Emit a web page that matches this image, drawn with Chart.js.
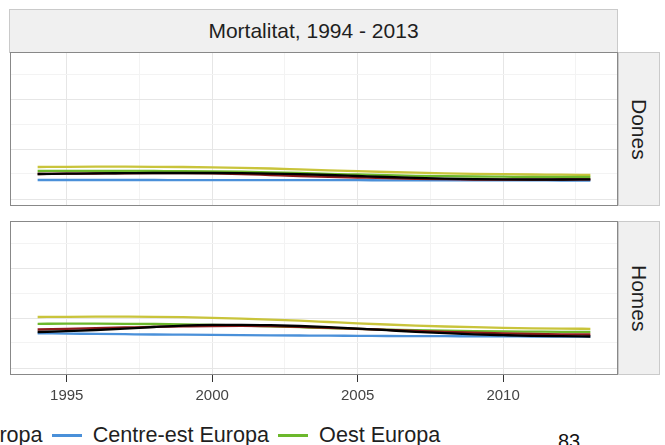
<!DOCTYPE html>
<html>
<head>
<meta charset="utf-8">
<script src="https://cdn.jsdelivr.net/npm/chart.js@4.4.1/dist/chart.umd.min.js"></script>
<style>
html,body{margin:0;padding:0;background:#fff;}
body{width:665px;height:445px;position:relative;overflow:hidden;font-family:"Liberation Sans",Arial,sans-serif;}
.strip{position:absolute;background:#f0f0f0;border:1px solid #cacaca;box-sizing:border-box;color:#1f1f1f;font-size:21px;display:flex;align-items:center;justify-content:center;}
.vtext{writing-mode:vertical-rl;}
.frame{position:absolute;left:10px;width:608px;height:154px;border:1px solid #888;box-sizing:border-box;pointer-events:none;}
canvas{position:absolute;left:10px;}
#legend{position:absolute;top:423px;display:flex;align-items:center;white-space:nowrap;font-size:21.6px;line-height:24px;color:#1f1f1f;}
.key{width:30px;height:3px;margin-right:11px;}
.lab{margin-right:9px;}
#page{position:absolute;left:558px;top:431px;font-size:20px;line-height:20px;color:#111;}
</style>
</head>
<body>
<div class="strip" style="left:9px;top:9px;width:609px;height:44px;">Mortalitat, 1994 - 2013</div>
<canvas id="c1" width="608" height="154" style="top:52px;"></canvas>
<canvas id="c2" width="608" height="200" style="top:221px;"></canvas>
<div class="frame" style="top:52px;"></div>
<div class="frame" style="top:221px;"></div>
<div class="strip vtext" id="s1" style="left:618px;top:52px;width:42px;height:154px;"></div>
<div class="strip vtext" id="s2" style="left:618px;top:221px;width:42px;height:154px;"></div>
<div id="legend"></div>
<div id="page">83</div>
<script>
// ---- data ----
const years = [1994,1995,1996,1997,1998,1999,2000,2001,2002,2003,2004,2005,2006,2007,2008,2009,2010,2011,2012,2013];
const panelNames = ['Dones','Homes'];
const seriesNames = ['Sud Europa','Oest Europa','Est Europa','Centre-est Europa','Europa'];
const seriesColors = ['#c9c43b','#6cb82c','#8c1a1a','#4a90d9','#000000'];
const legendShown = ['Europa','Centre-est Europa','Oest Europa'];
const xTickValues = [1995,1997.5,2000,2002.5,2005,2007.5,2010,2012.5];
const yTickValues = [0,250,500,750,1000,1250];

// Dones
const donesSud      = [320,322,323,323,322,320,317,312,305,296,287,278,270,263,257,252,248,245,243,240];
const donesOest     = [280,281,281,281,280,279,277,273,267,260,252,245,238,232,228,225,223,221,220,220];
const donesEst      = [250,253,255,257,258,258,256,250,240,230,222,215,208,202,198,195,194,194,195,196];
const donesCentreEst= [190,190,190,190,190,189,189,189,188,188,188,188,187,187,187,186,186,186,185,185];
const donesEuropa   = [250,253,256,258,260,260,260,258,254,248,240,230,220,211,204,199,196,195,195,196];
// Homes
const homesSud      = [510,512,513,513,512,508,502,494,484,473,460,447,435,424,415,408,402,397,394,392];
const homesOest     = [442,443,443,442,440,437,432,425,417,408,399,391,384,378,373,369,366,364,362,361];
const homesEst      = [385,392,399,405,411,416,420,421,418,411,402,392,381,370,361,353,346,341,337,335];
const homesCentreEst= [347,344,341,338,335,333,331,329,327,325,323,322,320,319,318,317,316,315,314,313];
const homesEuropa   = [360,368,380,394,410,424,431,432,428,420,408,394,378,362,348,337,329,322,318,315];

const panels = [
  [donesSud, donesOest, donesEst, donesCentreEst, donesEuropa],
  [homesSud, homesOest, homesEst, homesCentreEst, homesEuropa]
];
const drawOrder = [4,3,1,2,0]; // lower = on top

// ---- charts ----
const MAJ = '#e6e6e6', MIN = '#f3f3f3';
function buildDatasets(vals){
  return vals.map((arr,i)=>({
    label: seriesNames[i],
    data: arr.map((v,j)=>({x:years[j], y:v})),
    borderColor: seriesColors[i],
    backgroundColor: seriesColors[i],
    borderWidth: 2.3,
    pointRadius: 0,
    fill: false,
    cubicInterpolationMode: 'monotone',
    order: drawOrder[i]
  }));
}
function makeChart(id, vals, showX){
  return new Chart(document.getElementById(id), {
    type: 'line',
    data: { datasets: buildDatasets(vals) },
    options: {
      animation: false, responsive: false, devicePixelRatio: 1,
      layout: { padding: 0 },
      plugins: { legend: { display: false }, tooltip: { enabled: false } },
      scales: {
        x: {
          type: 'linear', min: 1993.05, max: 2013.95,
          afterBuildTicks: s => { s.ticks = xTickValues.map(v => ({ value: v })); },
          afterFit: s => { s.height = showX ? 46 : 0; },
          border: { display: false },
          grid: {
            color: c => (c.tick && c.tick.value % 5 === 0) ? MAJ : MIN,
            lineWidth: 1,
            drawTicks: showX, tickLength: 7, tickWidth: 1,
            tickColor: c => (c.tick && c.tick.value % 5 === 0) ? '#333333' : 'rgba(0,0,0,0)'
          },
          ticks: {
            display: showX, padding: 5, color: '#444444', maxRotation: 0, autoSkip: false,
            font: { family: 'Liberation Sans', size: 15 },
            callback: v => (v % 5 === 0) ? String(v) : ''
          }
        },
        y: {
          type: 'linear', min: -70, max: 1470,
          afterBuildTicks: s => { s.ticks = yTickValues.map(v => ({ value: v })); },
          afterFit: s => { s.width = 0; },
          border: { display: false },
          grid: { color: c => (c.tick && c.tick.value % 500 === 0) ? MAJ : MIN, lineWidth: 1, drawTicks: false },
          ticks: { display: false }
        }
      }
    }
  });
}
makeChart('c1', panels[0], false);
makeChart('c2', panels[1], true);
document.getElementById('s1').textContent = panelNames[0];
document.getElementById('s2').textContent = panelNames[1];

// ---- legend (cut at the left edge as in the reference) ----
const lg = document.getElementById('legend');
let firstLab = null;
legendShown.forEach(name => {
  const i = seriesNames.indexOf(name);
  const k = document.createElement('div'); k.className = 'key'; k.style.background = seriesColors[i];
  const t = document.createElement('div'); t.className = 'lab'; t.textContent = name;
  lg.appendChild(k); lg.appendChild(t);
  if (!firstLab) firstLab = t;
});
// place so that the first label ends at x = 43
const endX = firstLab.offsetLeft + firstLab.offsetWidth;
lg.style.left = (43 - endX) + 'px';
</script>
</body>
</html>
